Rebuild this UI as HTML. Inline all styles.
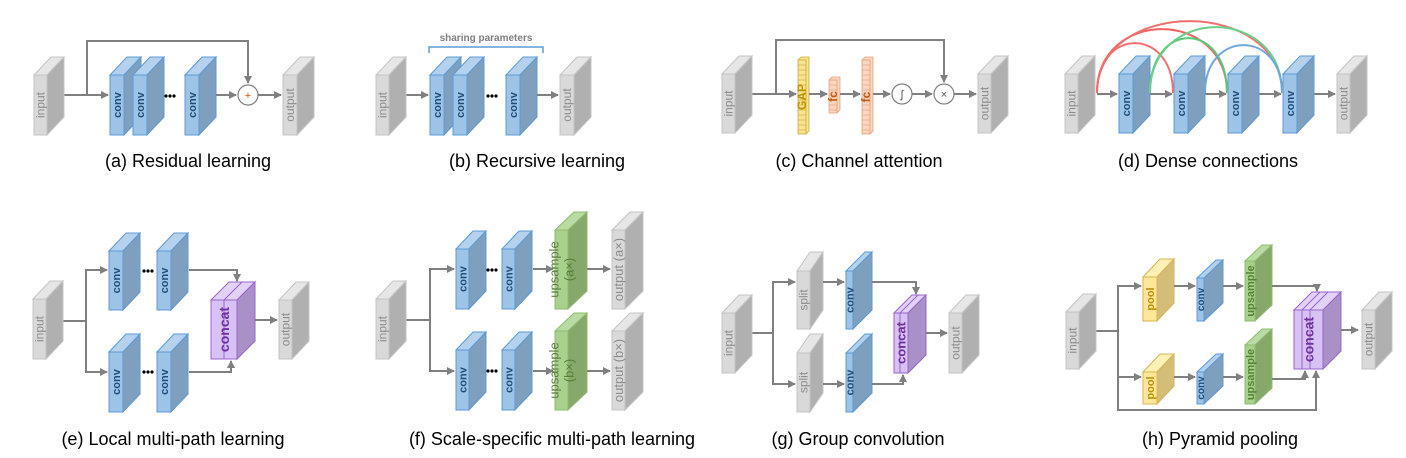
<!DOCTYPE html>
<html><head><meta charset="utf-8"><style>
html,body{margin:0;padding:0;background:#fff;}
svg{display:block;}
text{font-family:"Liberation Sans",sans-serif;}
</style></head><body>
<svg id="s" width="1406" height="458" xmlns="http://www.w3.org/2000/svg">
<defs><marker id="ar" markerWidth="8" markerHeight="8" refX="7" refY="4" orient="auto" markerUnits="userSpaceOnUse"><path d="M0,0 L8,4 L0,8 z" fill="#808080"/></marker></defs>
</svg>
<script>
const S=document.getElementById('s');let o='';
const C={gray:['#d9d9d9','#e6e6e6','#b0b0b0','#c4c4c4','#8c8c8c',false],
blue:['#9dc3e6','#b4d1ee','#7f9fbf','#5b9bd5','#1f4e79',true],
purple:['#d8c2f5','#e3d2f8','#a990c6','#9966cc','#7030a0',true],
green:['#a9d18e','#b9dca2','#86a86b','#8fbc6f','#548235',true],
greenn:['#a9d18e','#b9dca2','#86a86b','#8fbc6f','#548235',false],
yellow:['#ffe699','#fff0b3','#d4bd78','#d6b656','#bf9000',true]};
function box(x,y,w,h,dx,dy,sc,lab,divs,fs){const c=C[sc];
o+=`<polygon points="${x},${y} ${x+dx},${y-dy} ${x+w+dx},${y-dy} ${x+w},${y}" fill="${c[1]}" stroke="${c[3]}" stroke-width="1"/>`;
o+=`<polygon points="${x+w},${y} ${x+w+dx},${y-dy} ${x+w+dx},${y+h-dy} ${x+w},${y+h}" fill="${c[2]}" stroke="${c[3]}" stroke-width="1"/>`;
o+=`<rect x="${x}" y="${y}" width="${w}" height="${h}" fill="${c[0]}" stroke="${c[3]}" stroke-width="1"/>`;
(divs||[]).forEach(d=>{o+=`<polyline points="${d},${y+h} ${d},${y} ${d+dx},${y-dy}" fill="none" stroke="${c[3]}" stroke-width="1"/>`;});
if(lab){const cx=x+w/2,cy=y+h/2;const lines=lab.split('|');fs=fs||(sc=='gray'?12:11);
lines.forEach((l,i)=>{const off=(i-(lines.length-1)/2)*(fs+2)+fs*0.35;
o+=`<text transform="translate(${cx+off},${cy}) rotate(-90)" text-anchor="middle" font-size="${fs}" fill="${c[4]}" font-weight="${c[5]?'bold':'normal'}">${l}</text>`;});}}
function ln(pts,arrow){o+=`<polyline points="${pts.map(p=>p.join(',')).join(' ')}" fill="none" stroke="#808080" stroke-width="2" ${arrow?'marker-end="url(#ar)"':''}/>`;}
function dots(x,y){for(let i=0;i<3;i++)o+=`<circle cx="${x-4+i*4}" cy="${y}" r="1.6" fill="#000"/>`;}
function circ(x,y,t,col){o+=`<circle cx="${x}" cy="${y}" r="10" fill="#fff" stroke="#808080" stroke-width="1.2"/><text x="${x}" y="${y+4}" text-anchor="middle" font-size="11" fill="${col}">${t}</text>`;}
function cap(x,y,t){o+=`<text x="${x}" y="${y}" text-anchor="middle" font-size="18" fill="#000">${t}</text>`;}
// (a)
ln([[64,95],[108,95]],1);ln([[87,95],[87,41],[248,41],[248,83]],1);
box(34,75,13,60,17,18,'gray','input');
box(110,75,14,60,17,18,'blue','conv');box(133,75,14,60,17,18,'blue','conv');dots(170,96);box(185,75,14,60,17,18,'blue','conv');
ln([[216,95],[236,95]],1);circ(248,95,'+','#c55a11');ln([[258,95],[281,95]],1);
box(283,75,14,60,17,18,'gray','output');cap(188,167,'(a) Residual learning');
// (b)
ln([[406,95],[428,95]],1);box(376,75,13,60,17,18,'gray','input');
box(430,75,14,60,17,18,'blue','conv');box(453,75,14,60,17,18,'blue','conv');dots(492,96);box(506,75,14,60,17,18,'blue','conv');
ln([[537,95],[558,95]],1);box(560,75,14,60,17,18,'gray','output');
o+=`<polyline points="429,53 429,47 543,47 543,53" fill="none" stroke="#5b9bd5" stroke-width="1.5"/><text x="486" y="41" text-anchor="middle" font-size="10" font-weight="bold" fill="#7f7f7f">sharing parameters</text>`;
cap(537,167,'(b) Recursive learning');
// (c)
ln([[752,94],[796,94]],1);ln([[776,94],[776,40],[944,40],[944,82]],1);
box(722,74,13,59,17,18,'gray','input');
function col(x,y,w,h,f,s,t,lab,fs){o+=`<polygon points="${x},${y} ${x+3},${y-3} ${x+w+3},${y-3} ${x+w+3},${y+h-3} ${x+w},${y+h}" fill="${f}" stroke="${s}" stroke-width="0.8"/><rect x="${x}" y="${y}" width="${w}" height="${h}" fill="${f}" stroke="${s}" stroke-width="0.8"/>`;
for(let yy=y+5;yy<y+h;yy+=5)o+=`<line x1="${x}" y1="${yy}" x2="${x+w}" y2="${yy}" stroke="${s}" stroke-width="0.6"/>`;
o+=`<text transform="translate(${x+w/2+4},${y+h/2}) rotate(-90)" text-anchor="middle" font-size="${fs}" font-weight="bold" fill="${t}">${lab}</text>`;}
col(798,60,8,74,'#fbe38e','#c9a93a','#bf9000','GAP',12);ln([[809,94],[827,94]],1);
col(829,80,8,33,'#fbd5bd','#e3a27a','#c55a11','fc',12);ln([[840,94],[860,94]],1);
col(862,60,8,74,'#fbd5bd','#e3a27a','#c55a11','fc',12);ln([[873,94],[890,94]],1);
circ(902,94,'∫','#555');ln([[912,94],[932,94]],1);circ(944,94,'×','#555');ln([[954,94],[976,94]],1);
box(978,74,13,59,17,18,'gray','output');cap(859,167,'(c) Channel attention');
// (d)
ln([[1097,94],[1117,94]],1);ln([[1150,94],[1172,94]],1);ln([[1205,94],[1226,94]],1);ln([[1258,94],[1281,94]],1);ln([[1314,94],[1335,94]],1);
function arc(x1,x2,y,hh,c){o+=`<path d="M${x1},${y} C${x1},${y-hh*1.33} ${x2},${y-hh*1.33} ${x2},${y}" fill="none" stroke="${c}" stroke-width="2"/>`;}
box(1065,74,13,59,17,18,'gray','input');
box(1119,74,14,59,17,18,'blue','conv');box(1174,74,14,59,17,18,'blue','conv');box(1228,74,14,59,17,18,'blue','conv');box(1283,74,14,59,17,18,'blue','conv');
box(1337,74,13,59,17,18,'gray','output');
arc(1097,1173,93,50,'#f07070');arc(1097,1227,93,64,'#f06060');arc(1097,1282,93,72,'#f07070');
arc(1150,1227,93,55,'#5cc97a');arc(1150,1282,93,66,'#6ccf88');arc(1205,1282,93,48,'#6fa8dc');
cap(1208,167,'(d) Dense connections');
// (e)
ln([[63,321],[86,321],[86,270],[107,270]],1);ln([[86,321],[86,372],[107,372]],1);
box(33,299,13,60,17,18,'gray','input');
box(109,251,14,59,17,18,'blue','conv');dots(148,271);box(157,251,14,59,17,18,'blue','conv');
box(109,352,14,60,17,18,'blue','conv');dots(148,372);box(157,352,14,60,17,18,'blue','conv');
ln([[189,270],[237,270],[237,281]],1);ln([[189,372],[231,372],[231,361]],1);
box(211,300,26,59,18,18,'purple','concat',[224],14);
ln([[255,320],[277,320]],1);box(279,300,13,59,17,18,'gray','output');
cap(173,445,'(e) Local multi-path learning');
// (f)
ln([[406,320],[430,320],[430,269],[454,269]],1);ln([[430,320],[430,371],[454,371]],1);
box(376,299,13,60,17,18,'gray','input');
box(456,249,13,60,17,18,'blue','conv');dots(492,270);box(502,249,13,60,17,18,'blue','conv');
box(456,350,13,60,17,18,'blue','conv');dots(492,371);box(502,350,13,60,17,18,'blue','conv');
ln([[533,269],[553,269]],1);ln([[533,371],[553,371]],1);
box(555,230,13,79,19,18,'greenn','upsample|(a×)',null,13);box(555,331,13,79,19,18,'greenn','upsample|(b×)',null,13);
ln([[587,269],[610,269]],1);ln([[587,371],[610,371]],1);
box(612,230,13,79,18,18,'gray','output (a×)',null,13);box(612,331,13,79,18,18,'gray','output (b×)',null,13);
cap(552,445,'(f) Scale-specific multi-path learning');
// (g)
ln([[752,333],[773,333],[773,282],[795,282]],1);ln([[773,333],[773,384],[795,384]],1);
box(722,313,13,60,17,18,'gray','input');
box(797,271,13,58,13,19,'gray','split');box(797,353,13,59,13,19,'gray','split');
ln([[823,282],[844,282]],1);ln([[823,384],[844,384]],1);
box(846,271,7,58,19,19,'blue','conv');box(846,353,7,59,19,19,'blue','conv');
ln([[872,282],[916,282],[916,294]],1);ln([[872,384],[903,384],[903,375]],1);
box(894,313,14,60,18,18,'purple','concat',[900],13);
ln([[926,333],[947,333]],1);box(949,313,13,60,17,18,'gray','output');
cap(858,445,'(g) Group convolution');
// (h)
ln([[1096,331],[1118,331],[1118,286],[1141,286]],1);ln([[1118,331],[1118,377],[1141,377]],1);ln([[1118,331],[1118,410],[1316,410],[1316,371]],1);
box(1066,312,13,57,17,18,'gray','input');
box(1143,277,14,44,17,18,'yellow','pool');box(1143,372,14,32,17,18,'yellow','pool');
ln([[1174,286],[1195,286]],1);ln([[1174,377],[1195,377]],1);
box(1197,278,7,43,19,18,'blue','conv',null,10);box(1197,372,7,32,19,18,'blue','conv',null,10);
ln([[1223,286],[1243,286]],1);ln([[1223,377],[1243,377]],1);
box(1245,261,10,60,17,16,'green','upsample');box(1245,345,10,59,17,16,'green','upsample');
ln([[1272,286],[1317,286],[1317,291]],1);ln([[1272,379],[1305,379],[1305,371]],1);
box(1294,310,29,59,18,18,'purple','concat',[1302,1310],14);
ln([[1341,330],[1358,330]],1);box(1362,310,13,59,17,18,'gray','output');
cap(1220,445,'(h) Pyramid pooling');
S.insertAdjacentHTML('beforeend',o);
</script>
</body></html>
